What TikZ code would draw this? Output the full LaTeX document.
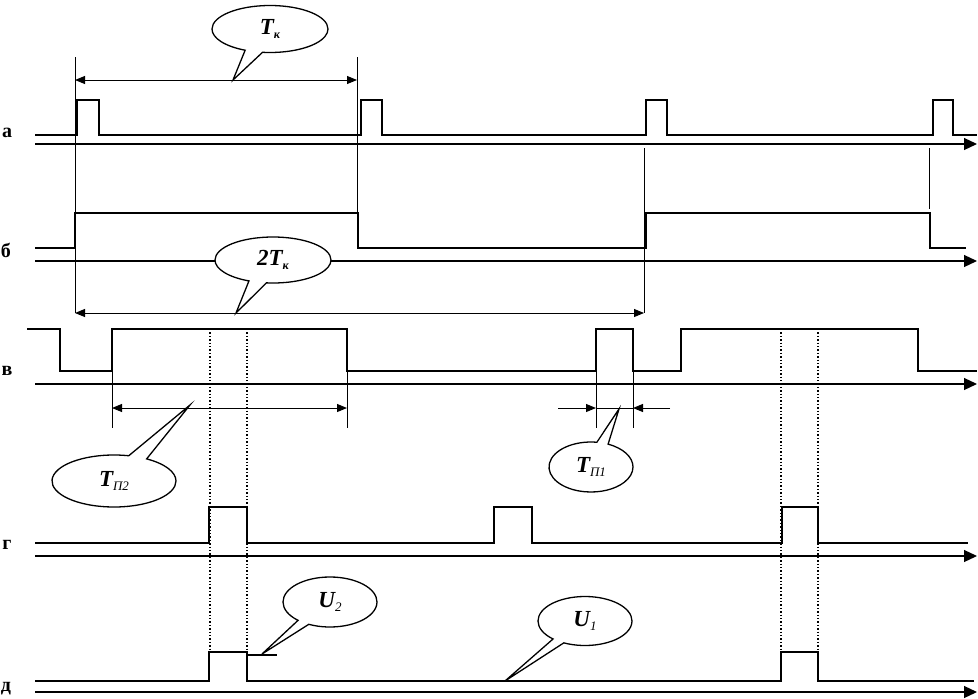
\documentclass[tikz,border=0pt]{standalone}
\usepackage{fontspec}
\setmainfont{Liberation Serif}
\usetikzlibrary{arrows.meta,shapes.callouts,shapes.geometric}
\begin{document}
\begin{tikzpicture}[x=1pt,y=-1pt,
  sig/.style={line width=2.6pt,line join=miter},
  axis/.style={line width=1.2pt,-{Triangle[length=13pt,width=12pt]}},
  ext/.style={line width=1pt},
  dots/.style={line width=1.4pt,dotted},
  dim/.style={line width=1pt,{Triangle[length=10pt,width=8pt]}-{Triangle[length=10pt,width=8pt]}},
  dimtip/.style={line width=1pt,-{Triangle[length=10pt,width=8pt]}},
  bubble/.style={ellipse callout,draw,fill=white,line width=1.3pt,inner sep=0pt,
    font=\fontsize{23}{26}\selectfont\bfseries\itshape},
  rowlab/.style={font=\fontsize{20}{22}\selectfont\bfseries,inner sep=0pt}]
\useasboundingbox (0,0) rectangle (978,699);
% row labels
\node[rowlab] (la) at (7,133) {а};
\node[rowlab] (lb) at (6,250) {б};
\node[rowlab] (lv) at (7,371) {в};
\node[rowlab] (lg) at (7,545) {г};
\node[rowlab] (ld) at (6,689) {д};
% axes
\coordinate (a0) at (35,144); \coordinate (a1) at (977,144);
\coordinate (b0) at (35,261); \coordinate (b1) at (977,261);
\coordinate (v0) at (35,384); \coordinate (v1) at (977,384);
\coordinate (g0) at (35,556); \coordinate (g1) at (977,556);
\coordinate (d0) at (35,692); \coordinate (d1) at (977,692);
\draw[axis] (a0) -- (a1);
\draw[axis] (b0) -- (b1);
\draw[axis] (v0) -- (v1);
\draw[axis] (g0) -- (g1);
\draw[axis] (d0) -- (d1);
% extension lines
\draw[ext] (75,57) -- (75,313);
\draw[ext] (357,57) -- (357,213);
\draw[ext] (644,148) -- (644,313);
\draw[ext] (929,148) -- (929,209);
\draw[ext] (112,329) -- (112,428);
\draw[ext] (347,329) -- (347,428);
\draw[ext] (596,329) -- (596,428);
\draw[ext] (633,329) -- (633,428);
% dotted lines
\draw[dots] (210,329) -- (210,652);
\draw[dots] (247,329) -- (247,652);
\draw[dots] (781,329) -- (781,652);
\draw[dots] (818,329) -- (818,652);
% signal а
\draw[sig] (35,135) -- (77,135) -- (77,100) -- (99,100) -- (99,135)
  -- (361,135) -- (361,100) -- (382,100) -- (382,135)
  -- (646,135) -- (646,100) -- (667,100) -- (667,135)
  -- (933,135) -- (933,100) -- (953,100) -- (953,135) -- (977,135);
% signal б
\draw[sig] (35,248) -- (75,248) -- (75,213) -- (358,213) -- (358,248)
  -- (646,248) -- (646,213) -- (930,213) -- (930,248) -- (966,248);
% signal в
\draw[sig] (27,329) -- (60,329) -- (60,371) -- (112,371) -- (112,329)
  -- (347,329) -- (347,371) -- (596,371) -- (596,329) -- (633,329)
  -- (633,371) -- (681,371) -- (681,329) -- (918,329) -- (918,371) -- (977,371);
% signal г
\draw[sig] (35,543) -- (209,543) -- (209,507) -- (247,507) -- (247,543)
  -- (494,543) -- (494,507) -- (532,507) -- (532,543)
  -- (782,543) -- (782,507) -- (818,507) -- (818,543) -- (968,543);
% signal д
\draw[sig] (35,681) -- (209,681) -- (209,652) -- (247,652) -- (247,681)
  -- (781,681) -- (781,652) -- (818,652) -- (818,681) -- (974,681);
\draw[line width=1.2pt] (247,655) -- (277,655);
% dimension arrows
\coordinate (tk0) at (75,80); \coordinate (tk1) at (357,80);
\draw[dim] (tk0) -- (tk1);
\coordinate (tt0) at (75,313); \coordinate (tt1) at (644,313);
\draw[dim] (tt0) -- (tt1);
\coordinate (tp0) at (112,408); \coordinate (tp1) at (347,408);
\draw[dim] (tp0) -- (tp1);
\coordinate (q0) at (558,408); \coordinate (q1) at (596,408);
\coordinate (q2) at (633,408); \coordinate (q3) at (670,408);
\draw[dimtip] (q0) -- (q1);
\draw[line width=1pt] (q1) -- (q2);
\draw[dimtip] (q3) -- (q2);
% callouts
\node[bubble,minimum width=116pt,minimum height=47pt,
  callout absolute pointer={(233,80)},callout pointer arc=18] (ctk) at (270,29)
  {T\raisebox{-0.35ex}{\fontsize{12}{12}\selectfont к}};
\node[bubble,minimum width=116pt,minimum height=46pt,
  callout absolute pointer={(236,313)},callout pointer arc=18] (c2tk) at (273,260)
  {2T\raisebox{-0.35ex}{\fontsize{12}{12}\selectfont к}};
\node[bubble,minimum width=124pt,minimum height=52pt,
  callout absolute pointer={(190,405)},callout pointer arc=18] (ctp2) at (114,481)
  {T\raisebox{-0.35ex}{\fontsize{13}{13}\selectfont\mdseries П2}};
\node[bubble,minimum width=84pt,minimum height=50pt,
  callout absolute pointer={(619,409)},callout pointer arc=16] (ctp1) at (591,467)
  {T\raisebox{-0.35ex}{\fontsize{13}{13}\selectfont\mdseries П1}};
\node[bubble,minimum width=94pt,minimum height=50pt,
  callout absolute pointer={(262,654)},callout pointer arc=16] (cu2) at (330,602)
  {U\raisebox{-0.35ex}{\fontsize{13}{13}\selectfont\mdseries 2}};
\node[bubble,minimum width=94pt,minimum height=49pt,
  callout absolute pointer={(505,681)},callout pointer arc=16] (cu1) at (585,621)
  {U\raisebox{-0.35ex}{\fontsize{13}{13}\selectfont\mdseries 1}};
\end{tikzpicture}
\end{document}
